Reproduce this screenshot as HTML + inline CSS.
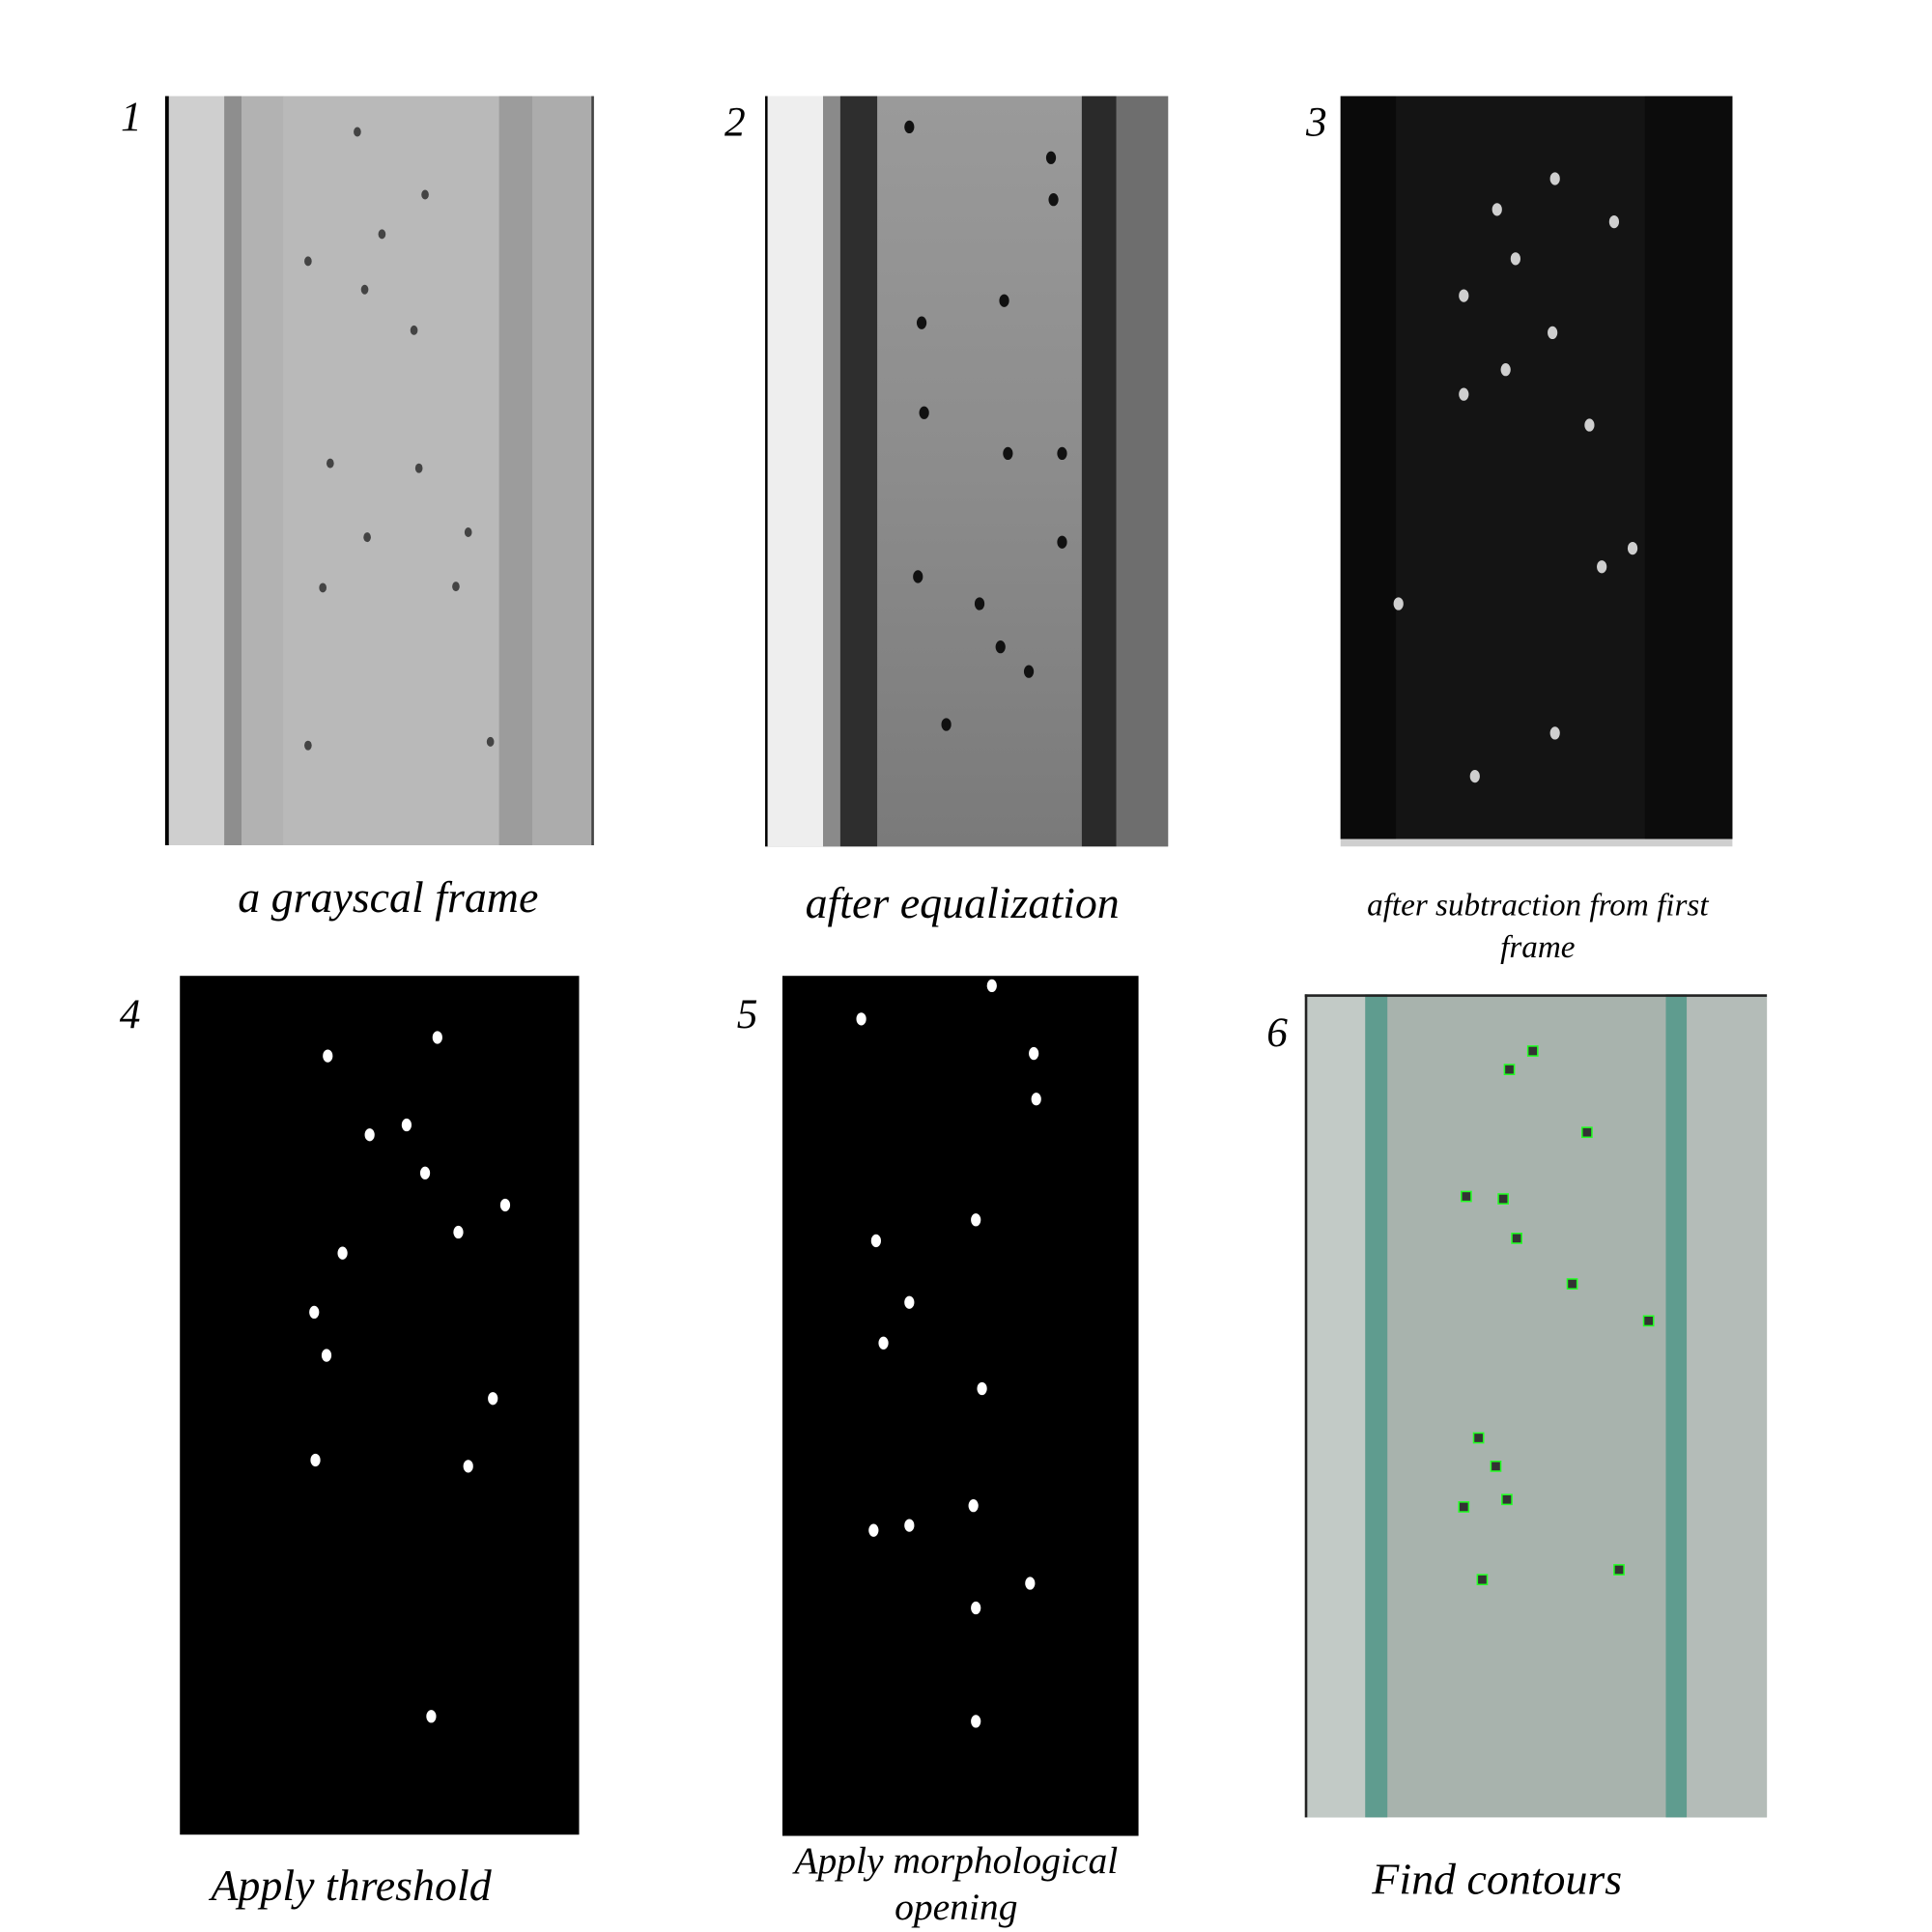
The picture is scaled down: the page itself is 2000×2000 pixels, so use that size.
<!DOCTYPE html>
<html><head><meta charset="utf-8"><style>
html,body{margin:0;padding:0;background:#fff;width:2000px;height:2000px;overflow:hidden}
svg{display:block}
text{font-family:"Liberation Serif",serif;font-style:italic;fill:#000}
</style></head><body>
<svg width="2000" height="2000" viewBox="0 0 1568 1568">
<defs>
<linearGradient id="g2" x1="0" x2="0" y1="0" y2="1"><stop offset="0" stop-color="#9a9a9a"/><stop offset="0.5" stop-color="#8c8c8c"/><stop offset="1" stop-color="#7a7a7a"/></linearGradient>
</defs>
<!-- panel 1 -->
<g>
<rect x="135" y="78" width="347" height="608" fill="#c6c6c6"/>
<rect x="135" y="78" width="47" height="608" fill="#cfcfcf"/>
<rect x="182" y="78" width="14" height="608" fill="#8e8e8e"/>
<rect x="196" y="78" width="34" height="608" fill="#b2b2b2"/>
<rect x="230" y="78" width="175" height="608" fill="#b9b9b9"/>
<rect x="405" y="78" width="27" height="608" fill="#9c9c9c"/>
<rect x="432" y="78" width="50" height="608" fill="#acacac"/>
<rect x="134" y="78" width="3" height="608" fill="#000"/>
<rect x="480" y="78" width="2" height="608" fill="#444"/>
<g id="d1" fill="#444"></g>
</g>
<text x="98" y="106" font-size="34">1</text>
<text x="315" y="740" font-size="36" text-anchor="middle">a grayscal frame</text>
<!-- panel 2 -->
<g>
<rect x="621" y="78" width="327" height="609" fill="#7a7a7a"/>
<rect x="621" y="78" width="2" height="609" fill="#000"/>
<rect x="623" y="78" width="45" height="609" fill="#eeeeee"/>
<rect x="668" y="78" width="14" height="609" fill="#8a8a8a"/>
<rect x="682" y="78" width="30" height="609" fill="#2e2e2e"/>
<rect x="712" y="78" width="166" height="609" fill="url(#g2)"/>
<rect x="878" y="78" width="28" height="609" fill="#2a2a2a"/>
<rect x="906" y="78" width="42" height="609" fill="#6e6e6e"/>
<g id="d2" fill="#111"></g>
</g>
<text x="588" y="110" font-size="34">2</text>
<text x="781" y="745" font-size="36" text-anchor="middle">after equalization</text>
<!-- panel 3 -->
<g>
<rect x="1088" y="78" width="318" height="603" fill="#141414"/>
<rect x="1088" y="78" width="45" height="603" fill="#0a0a0a"/>
<rect x="1335" y="78" width="71" height="603" fill="#0c0c0c"/>
<rect x="1088" y="681" width="318" height="6" fill="#cfcfcf"/>
<g id="d3" fill="#cfcfcf"></g>
</g>
<text x="1060" y="110" font-size="34">3</text>
<text x="1248" y="743" font-size="26" text-anchor="middle">after subtraction from first</text>
<text x="1248" y="777" font-size="26" text-anchor="middle">frame</text>
<!-- panel 4 -->
<g>
<rect x="146" y="792" width="324" height="697" fill="#000"/>
<g id="d4" fill="#fff"></g>
</g>
<text x="97" y="834" font-size="34">4</text>
<text x="285" y="1542" font-size="36" text-anchor="middle">Apply threshold</text>
<!-- panel 5 -->
<g>
<rect x="635" y="792" width="289" height="698" fill="#000"/>
<g id="d5" fill="#fff"></g>
</g>
<text x="598" y="834" font-size="34">5</text>
<text x="776" y="1520" font-size="31" text-anchor="middle">Apply morphological</text>
<text x="776" y="1558" font-size="31" text-anchor="middle">opening</text>
<!-- panel 6 -->
<g>
<rect x="1059" y="807" width="375" height="668" fill="#a8b3ad"/>
<rect x="1059" y="807" width="49" height="668" fill="#c2cac6"/>
<rect x="1108" y="807" width="18" height="668" fill="#5f9c8f"/>
<rect x="1352" y="807" width="17" height="668" fill="#5f9c8f"/>
<rect x="1369" y="807" width="65" height="668" fill="#b4bcb8"/>
<rect x="1059" y="807" width="375" height="2" fill="#222"/>
<rect x="1059" y="807" width="2" height="668" fill="#222"/>
<g id="d6"></g>
</g>
<text x="1028" y="849" font-size="34">6</text>
<text x="1215" y="1537" font-size="36" text-anchor="middle">Find contours</text>
</svg>
<script>
const spots1=[[290,107],[345,158],[250,212],[296,235],[336,268],[268,376],[298,436],[380,432],[262,477],[370,476],[250,605],[398,602],[340,380],[310,190]];
const spots2=[[738,103],[853,128],[855,162],[748,262],[815,244],[750,335],[818,368],[862,368],[745,468],[795,490],[812,525],[768,588],[862,440],[835,545]];
const spots3=[[1262,145],[1215,170],[1310,180],[1188,240],[1222,300],[1188,320],[1290,345],[1260,270],[1325,445],[1135,490],[1262,595],[1197,630],[1300,460],[1230,210]];
const spots4=[[355,842],[266,857],[300,921],[345,952],[278,1017],[255,1065],[400,1135],[256,1185],[380,1190],[350,1393],[410,978],[330,913],[372,1000],[265,1100]];
const spots5=[[805,800],[699,827],[839,855],[841,892],[711,1007],[792,990],[738,1057],[717,1090],[797,1127],[790,1222],[738,1238],[709,1242],[836,1285],[792,1305],[792,1397]];
const boxes6=[[1225,868],[1244,853],[1288,919],[1190,971],[1220,973],[1231,1005],[1276,1042],[1338,1072],[1200,1167],[1214,1190],[1188,1223],[1223,1217],[1203,1282],[1314,1274]];
const ns="http://www.w3.org/2000/svg";
function dots(id,arr,r){const g=document.getElementById(id);arr.forEach(p=>{const c=document.createElementNS(ns,'ellipse');


c.setAttribute('cx',p[0]);c.setAttribute('cy',p[1]);c.setAttribute('rx',r);c.setAttribute('ry',r*1.3);g.appendChild(c);});}
dots('d1',spots1,3);dots('d2',spots2,4);dots('d3',spots3,4);dots('d4',spots4,4);dots('d5',spots5,4);
const g6=document.getElementById('d6');
boxes6.forEach(p=>{const r=document.createElementNS(ns,'rect');


r.setAttribute('x',p[0]-4);r.setAttribute('y',p[1]-4);r.setAttribute('width',8);r.setAttribute('height',8);
r.setAttribute('fill','#333');r.setAttribute('stroke','#2f2');r.setAttribute('stroke-width','1.2');g6.appendChild(r);});
</script>
</body></html>
